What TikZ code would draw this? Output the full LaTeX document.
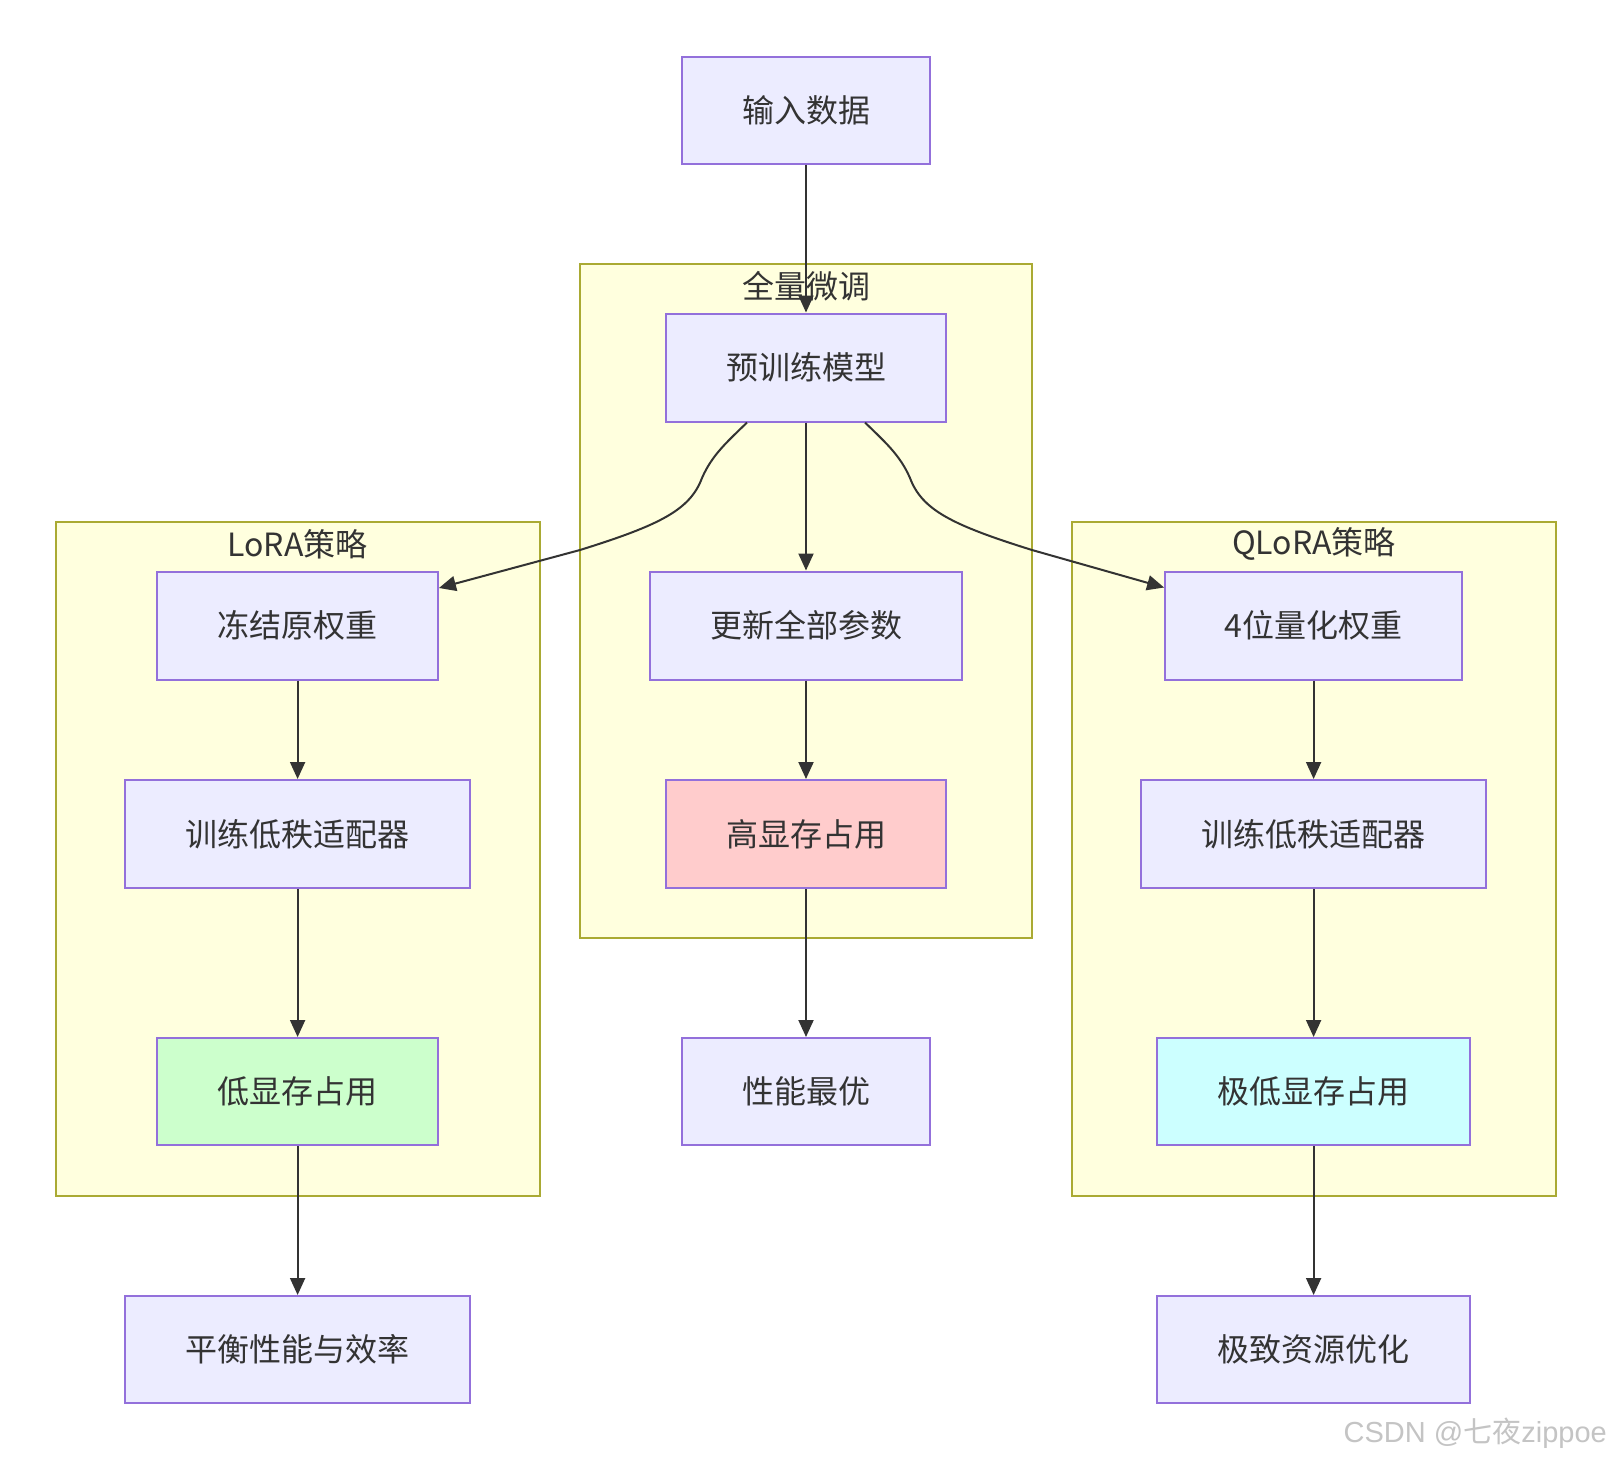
\documentclass[tikz,border=0pt]{standalone}
\usepackage{fontspec}
\setmainfont{Noto Sans CJK SC}
\newfontfamily\cjkfont{Noto Sans CJK SC}
\newfontfamily\wmfont{Liberation Sans}
\usetikzlibrary{arrows.meta}
\definecolor{nodefill}{HTML}{ECECFF}
\definecolor{nodeline}{HTML}{9370DB}
\definecolor{clfill}{HTML}{FFFFDE}
\definecolor{clline}{HTML}{AAAA33}
\definecolor{textc}{HTML}{333333}
\definecolor{edgec}{HTML}{333333}
\definecolor{pinkfill}{HTML}{FFCCCC}
\definecolor{greenfill}{HTML}{CCFFCC}
\definecolor{cyanfill}{HTML}{CCFFFF}
\definecolor{wmc}{HTML}{C4C4C4}
\tikzset{
  box/.style={draw=nodeline, fill=nodefill, line width=2pt, inner sep=0pt,
    font=\fontsize{32}{36}\selectfont, text=textc},
  cluster/.style={draw=clline, fill=clfill, line width=2pt},
  cllabel/.style={inner sep=0pt, font=\fontsize{32}{36}\selectfont, text=textc},
  edge/.style={draw=edgec, line width=2pt, -{Triangle[length=17pt,width=15pt]}}
}
\begin{document}
\begin{tikzpicture}[x=1pt,y=-1pt]
\useasboundingbox (0,0) rectangle (1612,1460);
\fill[white] (0,0) rectangle (1612,1460);
% clusters
\draw[cluster] (580,264) rectangle (1032,937.5);
\draw[cluster] (55.5,522) rectangle (539.7,1195.6);
\draw[cluster] (1072,522) rectangle (1556,1195.6);
\node[cllabel] (lfull) at (806,286) {全量微调};
\node[cllabel] (llora) at (297.6,544) {LoRA策略};
\node[cllabel] (lqlora) at (1314,544) {QLoRA策略};
% nodes
\node[box, minimum width=248.7pt, minimum height=107pt] (in) at (806,110) {输入数据};
\node[box, minimum width=280pt, minimum height=108pt] (pre) at (806,367.5) {预训练模型};
\node[box, minimum width=312.5pt, minimum height=108pt] (upd) at (806,625.5) {更新全部参数};
\node[box, fill=pinkfill, minimum width=280pt, minimum height=108pt] (high) at (806,834) {高显存占用};
\node[box, minimum width=248.7pt, minimum height=107pt] (perf) at (806,1091.5) {性能最优};
\node[box, minimum width=280.7pt, minimum height=108pt] (frz) at (297.6,625.5) {冻结原权重};
\node[box, minimum width=344.4pt, minimum height=108pt] (trl) at (297.6,834) {训练低秩适配器};
\node[box, fill=greenfill, minimum width=280.7pt, minimum height=107pt] (lowl) at (297.6,1091.5) {低显存占用};
\node[box, minimum width=344.4pt, minimum height=107pt] (bal) at (297.6,1349.5) {平衡性能与效率};
\node[box, minimum width=297pt, minimum height=108pt] (q4) at (1313.6,625.5) {4位量化权重};
\node[box, minimum width=344.5pt, minimum height=108pt] (trq) at (1313.6,834) {训练低秩适配器};
\node[box, fill=cyanfill, minimum width=312.5pt, minimum height=107pt] (lowq) at (1313.6,1091.5) {极低显存占用};
\node[box, minimum width=312.5pt, minimum height=107pt] (opt) at (1313.6,1349.5) {极致资源优化};
% edges
\draw[edge] (in.south) -- (pre.north);
\draw[edge] (pre.south) -- (upd.north);
\draw[edge] (upd.south) -- (high.north);
\draw[edge] (high.south) -- (perf.north);
\draw[edge] (frz.south) -- (trl.north);
\draw[edge] (trl.south) -- (lowl.north);
\draw[edge] (lowl.south) -- (bal.north);
\draw[edge] (q4.south) -- (trq.north);
\draw[edge] (trq.south) -- (lowq.north);
\draw[edge] (lowq.south) -- (opt.north);
\draw[edge] ([xshift=-59pt]pre.south) .. controls (727,442) and (712,455) .. (702,478)
  .. controls (690,510) and (660,525) .. (580,550) -- ([yshift=37.5pt]frz.east);
\draw[edge] ([xshift=59pt]pre.south) .. controls (885,442) and (900,455) .. (910,478)
  .. controls (922,510) and (952,525) .. (1032,550) -- ([yshift=38pt]q4.west);
% watermark
\node[anchor=base east, inner sep=0pt, text=wmc, font=\wmfont\fontsize{29}{30}\selectfont] (wm) at (1607,1442) {CSDN @{\cjkfont 七夜}zippoe};
\end{tikzpicture}
\end{document}
